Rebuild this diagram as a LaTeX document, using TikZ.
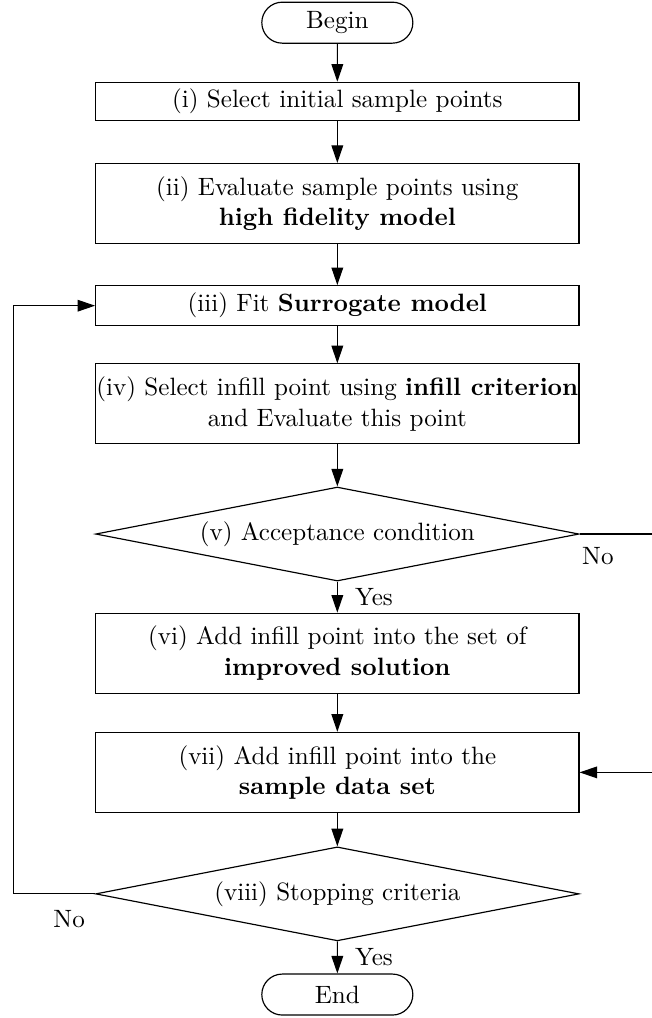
\documentclass[tikz,border=0pt]{standalone}
\usepackage{tikz}
\usetikzlibrary{shapes,arrows.meta,positioning,calc}
\tikzset{
    terminal/.style={
        rounded rectangle,
        draw=black,
        line width=0.5pt,
        minimum width=2.5cm,
        minimum height=0.615cm
    },
    process/.style={
        rectangle,
        draw=black,
        line width=0.5pt,
        inner xsep=0.3pt,
        inner ysep=2pt,
        minimum width=7.25cm,
        align=center
    },
    decision/.style={
        diamond,
        draw=black,
        line width=0.5pt,
        aspect=5,
        inner sep=0pt,
        minimum width=7.25cm,
        minimum height=1.41cm
    },
    flow/.style={
        -{Triangle[length=7.5pt,width=5pt]},
        line width=0.5pt
    }
}

\begin{document}
\begin{tikzpicture}[node distance=0.6cm, font=\fontsize{10.7}{13}\selectfont]
\useasboundingbox (-5.06,0.34) rectangle (4.71,-14.93);
% Begin
\node[terminal] (begin) {Begin};

% (i) and (ii)
\node[process, minimum height=0.57cm, below=0.57cm of begin] (initial) {(i) Select initial sample points};
\node[process, minimum height=1.2cm, below=0.63cm of initial] (evaluate) {(ii) Evaluate sample points using\\ \textbf{high fidelity model}};

% (iii) and (iv)
\node[process, minimum height=0.6cm, below=0.615cm of evaluate] (fit) {(iii) Fit \textbf{Surrogate model}};
\node[process, minimum height=1.2cm, below=0.555cm of fit] (infill) {(iv) Select infill point using \textbf{infill criterion}\\ and Evaluate this point};

% (v) decision
\node[decision, below=0.63cm of infill] (accept) {(v) Acceptance condition};

% (vi) and (vii)
\node[process, minimum height=1.2cm, below=0.465cm of accept] (improved) {(vi) Add infill point into the set of\\ \textbf{improved solution}};
\node[process, minimum height=1.2cm, below=0.57cm of improved] (sample) {(vii) Add infill point into the\\ \textbf{sample data set}};

% (viii) decision and End
\node[decision, below=0.5cm of sample] (stopping) {(viii) Stopping criteria};
\node[terminal, below=0.48cm of stopping] (end) {End};

\coordinate (leftx) at (-4.86,0);
\coordinate (rightx) at (4.76,0);

\draw[flow] (begin) -- (initial);
\draw[flow] (initial) -- (evaluate);
\draw[flow] (evaluate) -- (fit);
\draw[flow] (fit) -- (infill);
\draw[flow] (infill) -- (accept);
\draw[flow] (accept) -- node[right, xshift=0.14cm] {Yes} (improved);
\draw[flow] (improved) -- (sample);
\draw[flow] (sample) -- (stopping);
\draw[flow] (stopping) -- node[right, xshift=0.14cm] {Yes} (end);

% loops
\draw[flow] (accept.east) -- (accept.east -| rightx) -- (sample.east -| rightx) -- (sample.east);
\draw[flow] (stopping.west) -- (stopping.west -| leftx) -- (fit.west -| leftx) -- (fit.west);
\node[below right=0.07cm and -0.085cm of accept.east] (noaccept) {No};
\node[below left=0.13cm and 0.03cm of stopping.west] (nostop) {No};
\end{tikzpicture}
\end{document}
